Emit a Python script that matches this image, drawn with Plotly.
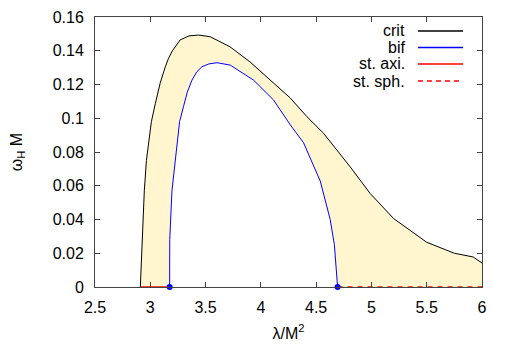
import plotly.graph_objects as go

# ---- data ----
crit_x = [2.91, 2.925, 2.946, 2.965, 2.985, 3.01, 3.046, 3.09, 3.136, 3.165, 3.20, 3.27, 3.35, 3.437, 3.542,
          3.72, 3.90, 4.085, 4.266, 4.417, 4.567, 4.808, 4.989, 5.2, 5.5, 5.75, 5.92, 6.0]
crit_y = [0.0, 0.028, 0.057, 0.075, 0.087, 0.098, 0.1088, 0.121, 0.1305, 0.1355, 0.140, 0.1464, 0.1488, 0.1493, 0.1483,
          0.1424, 0.1335, 0.1226, 0.112, 0.1009, 0.0911, 0.0712, 0.0554, 0.0406, 0.0265, 0.0200, 0.0178, 0.0142]

bif_x = [3.175, 3.176, 3.196, 3.226, 3.241, 3.265, 3.30, 3.335, 3.377, 3.42, 3.467, 3.53, 3.603, 3.723, 3.934, 4.115,
         4.266, 4.386, 4.537, 4.627, 4.665, 4.685, 4.694]
bif_y = [0.0, 0.028, 0.057, 0.075, 0.087, 0.098, 0.1068, 0.1155, 0.1226, 0.1275, 0.1305, 0.1322, 0.1329, 0.1315, 0.1226, 0.1108,
         0.0961, 0.0855, 0.0628, 0.0400, 0.025, 0.010, 0.0]

axi_x = [2.91, 3.175]
axi_y = [0.0, 0.0]
sph_x = [4.694, 6.0]
sph_y = [0.0, 0.0]
bif_pts_x = [3.175, 4.694]
bif_pts_y = [0.0, 0.0]

legend_names = ["crit", "bif", "st. axi.", "st. sph."]
legend_colors = ["#000000", "#0000ff", "#ff0000", "#ff0000"]
legend_dash = ["solid", "solid", "solid", "5px,4px"]

x_range = [2.5, 6.0]
y_range = [0.0, 0.16]

FONT = "Liberation Sans, Arial, sans-serif"
FS = 16

fig = go.Figure()

# filled region between crit and bif (and the axis beyond bif)
fill_x = crit_x + [crit_x[-1]] + sph_x[::-1] + bif_x[::-1][1:] + [crit_x[0]]
fill_y = crit_y + [0.0] + sph_y[::-1] + bif_y[::-1][1:] + [crit_y[0]]
fig.add_trace(go.Scatter(x=fill_x, y=fill_y, fill="toself", fillcolor="rgb(255,246,208)",
                         line=dict(width=0), mode="lines", hoverinfo="skip", showlegend=False))

fig.add_trace(go.Scatter(x=crit_x, y=crit_y, mode="lines", line=dict(color="black", width=1),
                         showlegend=False))
fig.add_trace(go.Scatter(x=bif_x, y=bif_y, mode="lines", line=dict(color="blue", width=1),
                         showlegend=False))
fig.add_trace(go.Scatter(x=axi_x, y=axi_y, mode="lines", line=dict(color="red", width=1.5),
                         showlegend=False, cliponaxis=False))
fig.add_trace(go.Scatter(x=sph_x, y=sph_y, mode="lines", line=dict(color="red", width=1.5, dash="5px,5px"),
                         showlegend=False, cliponaxis=False))
fig.add_trace(go.Scatter(x=bif_pts_x, y=bif_pts_y, mode="markers",
                         marker=dict(color="blue", size=6, symbol="circle"),
                         showlegend=False, cliponaxis=False))

# page has an 8px body margin, so the figure is shifted by 8px
OFF = 8
W, H = 514 - OFF, 360 - OFF
L, R, T, B = 95 - OFF, 32, 17 - OFF, 73
pw, ph = W - L - R, H - T - B
text_right_px = 407 - OFF
line_x0_px, line_x1_px = 418 - OFF, 463 - OFF
row_y_px = [y - OFF for y in [31, 47.5, 64, 81]]
for name, col, dash, py in zip(legend_names, legend_colors, legend_dash, row_y_px):
    yp = 1 - (py - T) / ph
    fig.add_annotation(x=(text_right_px - L) / pw, y=yp, xref="paper", yref="paper",
                       text=name, showarrow=False, xanchor="right", yanchor="middle",
                       font=dict(family=FONT, size=FS, color="black"))
    fig.add_shape(type="line", xref="paper", yref="paper",
                  x0=(line_x0_px - L) / pw, x1=(line_x1_px - L) / pw, y0=yp, y1=yp,
                  line=dict(color=col, width=1.5, dash=dash))

axis_common = dict(showgrid=False, zeroline=False, ticks="inside", ticklen=5,
                   tickcolor="#444", linecolor="#444", linewidth=1, mirror="ticks",
                   showline=True, automargin=False,
                   tickfont=dict(family=FONT, size=FS, color="black"))

fig.update_xaxes(range=x_range, dtick=0.5, tick0=2.5, ticklabelstandoff=6,
                 title=dict(text="λ/M<sup>2</sup>", font=dict(family=FONT, size=FS, color="black"), standoff=12),
                 **axis_common)
fig.update_yaxes(range=y_range, dtick=0.02, tick0=0, ticklabelstandoff=7,
                 title=dict(text="ω<sub>H</sub> M", font=dict(family=FONT, size=FS, color="black"), standoff=34),
                 **axis_common)

fig.update_layout(width=W, height=H, margin=dict(l=L, r=R, t=T, b=B),
                  plot_bgcolor="white", paper_bgcolor="white", showlegend=False)

fig.write_html("out.html")
